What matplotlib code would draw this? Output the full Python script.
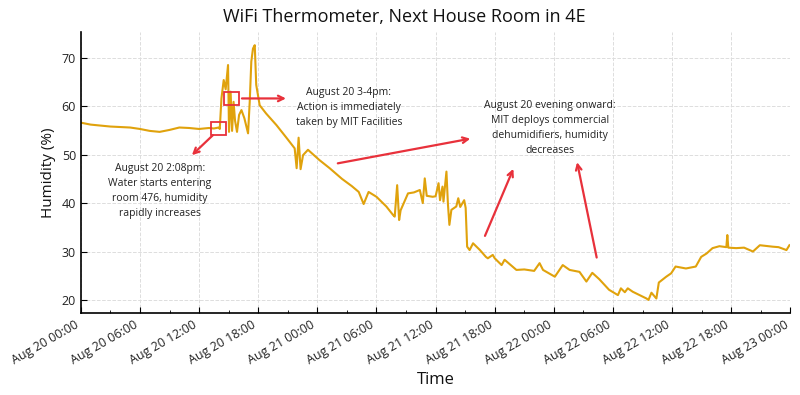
import matplotlib
matplotlib.use("Agg")
import matplotlib.pyplot as plt
import matplotlib.dates as mdates
import matplotlib.patches as mpatches
import pandas as pd

plt.rcParams['font.family'] = ['Open Sans', 'DejaVu Sans']

# hours since Aug 20 00:00
hours = [0, 1, 2, 3, 4, 5, 6, 7, 8, 9, 10, 11, 12, 13, 13.5, 14.0, 14.1,
         14.27, 14.5, 14.7, 14.94, 15.04, 15.2, 15.35, 15.5, 15.65, 15.85, 16.06, 16.3, 16.6,
         16.97, 17.14, 17.3, 17.47, 17.65, 17.8, 18.15, 18.8, 19.85, 20.9, 21.7, 21.9, 22.1,
         22.3, 22.55, 23.05, 24.2, 25.25, 26.5, 27.5, 28.2, 28.7, 29.2, 30.0, 31.0, 31.7,
         31.85, 32.1, 32.3, 32.45, 33.2, 33.8, 34.4, 34.7, 34.9, 35.1, 35.7, 36.0, 36.3,
         36.45, 36.7, 36.8, 37.1, 37.25, 37.4, 37.6, 38.1, 38.3, 38.5, 38.9, 39.05, 39.2,
         39.45, 39.8, 40.5, 41.1, 41.3, 41.8, 42.0, 42.7, 43.0, 44.2, 45.0, 46.0, 46.55,
         46.9, 48.1, 48.9, 49.6, 50.6, 51.3, 51.9, 52.6, 53.6, 54.5, 54.8, 55.2, 55.5, 56.0,
         57.4, 57.6, 57.9, 58.4, 58.65, 59.4, 59.9, 60.35, 61.4, 62.4, 62.95, 63.5, 64.1,
         64.8, 65.5, 65.6, 65.7, 66.5, 67.3, 68.2, 68.9, 70.2, 70.8, 71.6, 71.9]
humidity = [56.6, 56.2, 56.0, 55.8, 55.7, 55.6, 55.3, 54.9, 54.7, 55.1, 55.6, 55.5, 55.3, 55.5, 55.4, 55.6, 55.3,
            61.6, 65.4, 63.5, 68.5, 54.7, 63.0, 54.9, 60.9, 57.0, 54.7, 58.2, 59.2, 57.5,
            54.4, 60.9, 69.2, 71.9, 72.6, 64.4, 60.2, 58.5, 56.1, 53.4, 51.3, 47.2, 53.5,
            47.0, 49.9, 51.0, 48.9, 47.2, 45.0, 43.5, 42.3, 39.8, 42.3, 41.3, 39.3, 37.5,
            37.2, 43.7, 36.5, 38.5, 42.0, 42.2, 42.7, 40.0, 45.1, 41.5, 41.3, 41.4, 44.1,
            40.6, 43.4, 40.3, 46.5, 39.8, 35.5, 38.6, 39.3, 41.0, 39.2, 40.6, 39.0, 31.0,
            30.3, 31.7, 30.3, 28.9, 28.6, 29.3, 28.6, 27.2, 28.3, 26.2, 26.3, 26.0, 27.6,
            26.2, 24.8, 27.2, 26.2, 25.8, 23.8, 25.6, 24.3, 22.1, 21.0, 22.4, 21.6, 22.4, 21.7,
            20.3, 20.0, 21.5, 20.3, 23.6, 24.8, 25.5, 26.9, 26.5, 26.9, 28.9, 29.6, 30.7,
            31.1, 30.9, 33.4, 30.8, 30.7, 30.8, 30.0, 31.3, 31.0, 30.9, 30.3, 31.3]

start = pd.Timestamp("2024-08-20 00:00")
times = start + pd.to_timedelta(hours, unit="h")

fig = plt.figure(figsize=(8, 3.95), dpi=100)
ax = fig.add_axes([0.101, 0.207, 0.887, 0.713])

ax.plot(times, humidity, color="#E0A20C", lw=1.5)

ax.set_xlim(start, start + pd.Timedelta(hours=72))
ax.set_ylim(17.26, 75.4)
ax.xaxis.set_major_locator(mdates.HourLocator(byhour=[0, 6, 12, 18]))
ax.xaxis.set_minor_locator(mdates.HourLocator(byhour=[3, 9, 15, 21]))
ax.xaxis.set_major_formatter(mdates.DateFormatter("%b %d %H:%M"))
plt.setp(ax.get_xticklabels(), rotation=30, ha="right", fontsize=9, color="#222222")
plt.setp(ax.get_yticklabels(), fontsize=9, color="#222222")
ax.set_yticks([20, 30, 40, 50, 60, 70])

ax.tick_params(axis="both", which="both", direction="in")
ax.tick_params(axis="both", which="major", length=4)
ax.tick_params(axis="x", which="minor", length=2.5)
ax.grid(True, which="major", color="#dddddd", linestyle="--", lw=0.7)
for s in ["top", "right"]:
    ax.spines[s].set_visible(False)
for s in ["left", "bottom"]:
    ax.spines[s].set_linewidth(1.2)
    ax.spines[s].set_color("black")

fig.text(0.505, 0.957, "WiFi Thermometer, Next House Room in 4E", fontsize=13,
         color="#111111", ha="center", va="center")
ax.set_xlabel("Time", fontsize=12, color="#111111")
ax.set_ylabel("Humidity (%)", fontsize=11, color="#111111")

def t(h):
    return mdates.date2num(start + pd.Timedelta(hours=h))

red = "#E8313B"
# boxes
ax.add_patch(mpatches.Rectangle((t(13.17), 53.96), t(14.73) - t(13.17), 2.7,
                                fill=False, edgecolor=red, lw=1.3, zorder=5))
ax.add_patch(mpatches.Rectangle((t(14.5), 60.2), t(16.07) - t(14.5), 2.8,
                                fill=False, edgecolor=red, lw=1.3, zorder=5))

arrowprops = dict(arrowstyle="->", color=red, lw=1.6, mutation_scale=10)
ax.annotate("", xy=(t(11.07), 49.5), xytext=(t(13.6), 54.4), arrowprops=arrowprops)
ax.annotate("", xy=(t(21.1), 61.6), xytext=(t(16.07), 61.6), arrowprops=arrowprops)
ax.annotate("", xy=(t(39.8), 53.4), xytext=(t(25.8), 48.1), arrowprops=arrowprops)
ax.annotate("", xy=(t(44.0), 47.6), xytext=(t(40.9), 32.7), arrowprops=arrowprops)
ax.annotate("", xy=(t(50.3), 49.0), xytext=(t(52.4), 28.2), arrowprops=arrowprops)

tkw = dict(ha="center", va="top", fontsize=7.5, color="#222222", linespacing=1.52)
ax.text(t(8.0), 48.3, "August 20 2:08pm:\nWater starts entering\nroom 476, humidity\nrapidly increases", **tkw)
ax.text(t(27.2), 64.0, "August 20 3-4pm:\nAction is immediately\ntaken by MIT Facilities", **tkw)
ax.text(t(47.6), 61.3, "August 20 evening onward:\nMIT deploys commercial\ndehumidifiers, humidity\ndecreases", **tkw)

fig.savefig("out.png", dpi=100)
